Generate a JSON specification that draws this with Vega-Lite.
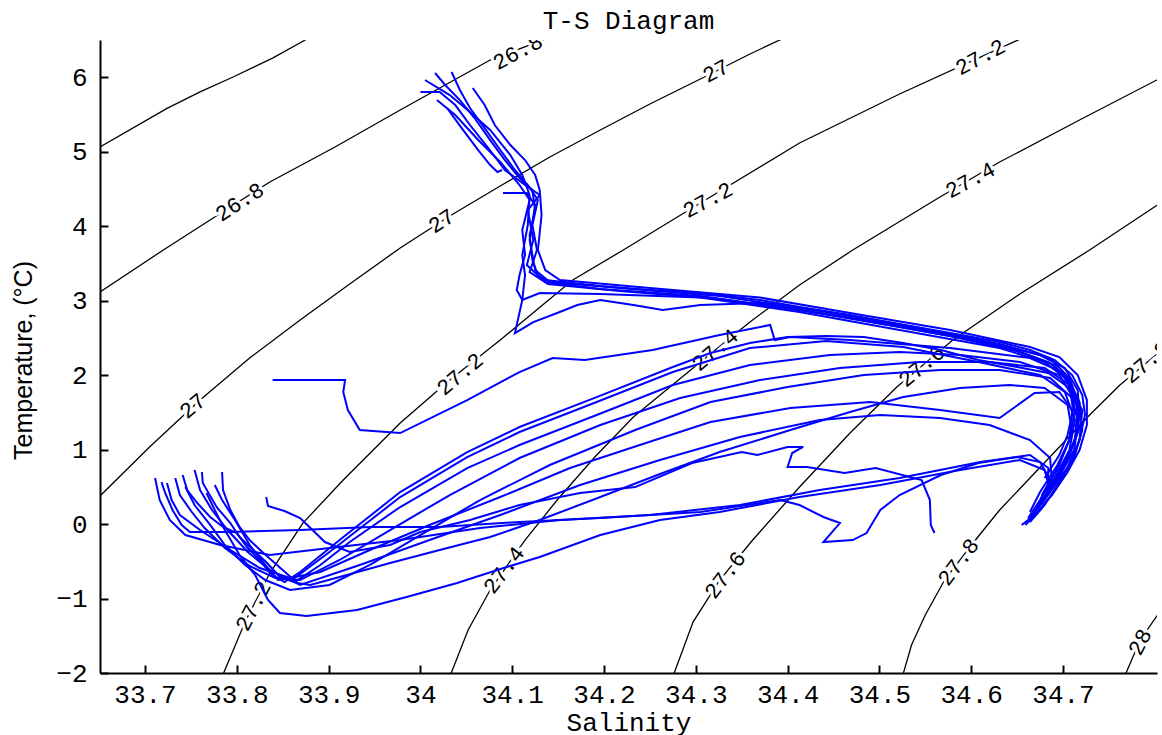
{
"$schema": "https://vega.github.io/schema/vega-lite/v6.json",
"width": 1057, "height": 633,
"autosize": {"type": "none"},
"padding": {"left": 100, "top": 40, "right": 5, "bottom": 62},
"background": "white",
"title": {"text": "T-S Diagram", "font": "Liberation Mono", "fontSize": 26, "fontWeight": "normal", "color": "black", "anchor": "middle", "frame": "group", "baseline": "alphabetic", "offset": 10, "dy": 25},
"config": {"view": {"stroke": null}, "font": "Liberation Mono"},
"datasets": {
"contours": [
{"k":"26.6","i":0,"S":33.651,"T":5.06},{"k":"26.6","i":1,"S":33.724,"T":5.58},{"k":"26.6","i":2,"S":33.760,"T":5.80},{"k":"26.6","i":3,"S":33.796,"T":6.00},{"k":"26.6","i":4,"S":33.840,"T":6.26},{"k":"26.6","i":5,"S":33.875,"T":6.50},{"k":"26.6","i":6,"S":33.900,"T":6.66},
{"k":"26.8","i":0,"S":33.651,"T":3.114},{"k":"26.8","i":1,"S":33.720,"T":3.678},{"k":"26.8","i":2,"S":33.776,"T":4.121},{"k":"26.8","i":3,"S":33.836,"T":4.591},{"k":"26.8","i":4,"S":33.907,"T":5.060},{"k":"26.8","i":5,"S":33.978,"T":5.557},{"k":"26.8","i":6,"S":34.027,"T":5.893},{"k":"26.8","i":7,"S":34.076,"T":6.228},{"k":"26.8","i":8,"S":34.139,"T":6.523},
{"k":"27.0","i":0,"S":33.651,"T":0.376},{"k":"27.0","i":1,"S":33.705,"T":1.034},{"k":"27.0","i":2,"S":33.760,"T":1.664},{"k":"27.0","i":3,"S":33.814,"T":2.228},{"k":"27.0","i":4,"S":33.869,"T":2.738},{"k":"27.0","i":5,"S":33.923,"T":3.222},{"k":"27.0","i":6,"S":33.978,"T":3.705},{"k":"27.0","i":7,"S":34.032,"T":4.134},{"k":"27.0","i":8,"S":34.087,"T":4.537},{"k":"27.0","i":9,"S":34.141,"T":4.926},{"k":"27.0","i":10,"S":34.196,"T":5.289},{"k":"27.0","i":11,"S":34.250,"T":5.638},{"k":"27.0","i":12,"S":34.305,"T":5.973},{"k":"27.0","i":13,"S":34.359,"T":6.309},{"k":"27.0","i":14,"S":34.403,"T":6.564},
{"k":"27.2","i":0,"S":33.784,"T":-2.05},{"k":"27.2","i":1,"S":33.809,"T":-1.316},{"k":"27.2","i":2,"S":33.836,"T":-0.658},{"k":"27.2","i":3,"S":33.872,"T":0.013},{"k":"27.2","i":4,"S":33.916,"T":0.590},{"k":"27.2","i":5,"S":33.978,"T":1.356},{"k":"27.2","i":6,"S":34.032,"T":1.933},{"k":"27.2","i":7,"S":34.087,"T":2.470},{"k":"27.2","i":8,"S":34.166,"T":3.275},{"k":"27.2","i":9,"S":34.221,"T":3.678},{"k":"27.2","i":10,"S":34.305,"T":4.309},{"k":"27.2","i":11,"S":34.413,"T":5.114},{"k":"27.2","i":12,"S":34.522,"T":5.772},{"k":"27.2","i":13,"S":34.610,"T":6.268},{"k":"27.2","i":14,"S":34.675,"T":6.631},
{"k":"27.4","i":0,"S":34.032,"T":-2.05},{"k":"27.4","i":1,"S":34.052,"T":-1.423},{"k":"27.4","i":2,"S":34.076,"T":-0.886},{"k":"27.4","i":3,"S":34.114,"T":-0.215},{"k":"27.4","i":4,"S":34.149,"T":0.322},{"k":"27.4","i":5,"S":34.190,"T":0.899},{"k":"27.4","i":6,"S":34.232,"T":1.436},{"k":"27.4","i":7,"S":34.305,"T":2.174},{"k":"27.4","i":8,"S":34.359,"T":2.711},{"k":"27.4","i":9,"S":34.413,"T":3.208},{"k":"27.4","i":10,"S":34.471,"T":3.678},{"k":"27.4","i":11,"S":34.566,"T":4.389},{"k":"27.4","i":12,"S":34.631,"T":4.859},{"k":"27.4","i":13,"S":34.718,"T":5.423},{"k":"27.4","i":14,"S":34.810,"T":6.01},
{"k":"27.6","i":0,"S":34.275,"T":-2.05},{"k":"27.6","i":1,"S":34.297,"T":-1.316},{"k":"27.6","i":2,"S":34.326,"T":-0.752},{"k":"27.6","i":3,"S":34.362,"T":-0.215},{"k":"27.6","i":4,"S":34.413,"T":0.496},{"k":"27.6","i":5,"S":34.468,"T":1.221},{"k":"27.6","i":6,"S":34.519,"T":1.839},{"k":"27.6","i":7,"S":34.580,"T":2.470},{"k":"27.6","i":8,"S":34.653,"T":3.087},{"k":"27.6","i":9,"S":34.729,"T":3.678},{"k":"27.6","i":10,"S":34.810,"T":4.34},
{"k":"27.8","i":0,"S":34.525,"T":-2.05},{"k":"27.8","i":1,"S":34.535,"T":-1.624},{"k":"27.8","i":2,"S":34.550,"T":-1.221},{"k":"27.8","i":3,"S":34.571,"T":-0.752},{"k":"27.8","i":4,"S":34.602,"T":-0.255},{"k":"27.8","i":5,"S":34.631,"T":0.188},{"k":"27.8","i":6,"S":34.664,"T":0.617},{"k":"27.8","i":7,"S":34.696,"T":1.034},{"k":"27.8","i":8,"S":34.729,"T":1.463},{"k":"27.8","i":9,"S":34.762,"T":1.866},{"k":"27.8","i":10,"S":34.810,"T":2.36},
{"k":"28.0","i":0,"S":34.767,"T":-2.05},{"k":"28.0","i":1,"S":34.784,"T":-1.557},{"k":"28.0","i":2,"S":34.810,"T":-1.10}
],
"lab28": [
{"S":34.106,"T":6.336,"lab":"26.8"},{"S":34.322,"T":6.081,"lab":"27"},{"S":34.610,"T":6.268,"lab":"27.2"},{"S":34.599,"T":4.617,"lab":"27.4"},{"S":34.313,"T":4.349,"lab":"27.2"}
],
"lab33": [
{"S":33.803,"T":4.322,"lab":"26.8"},{"S":34.023,"T":4.067,"lab":"27"}
],
"lab40": [
{"S":34.321,"T":2.336,"lab":"27.4"},{"S":34.043,"T":2.013,"lab":"27.2"},{"S":34.546,"T":2.121,"lab":"27.6"},{"S":34.791,"T":2.174,"lab":"27.8"},{"S":33.752,"T":1.584,"lab":"27"}
],
"lab53": [
{"S":34.091,"T":-0.618,"lab":"27.4"},{"S":34.332,"T":-0.685,"lab":"27.6"},{"S":34.586,"T":-0.510,"lab":"27.8"}
],
"lab63": [
{"S":33.818,"T":-1.101,"lab":"27.2"},{"S":34.784,"T":-1.584,"lab":"28"}
],
"casts": [
{"c":"N1","i":0,"S":34.016,"T":6.054},{"c":"N1","i":1,"S":34.027,"T":5.893},{"c":"N1","i":2,"S":34.043,"T":5.691},{"c":"N1","i":3,"S":34.059,"T":5.450},{"c":"N1","i":4,"S":34.076,"T":5.154},{"c":"N1","i":5,"S":34.092,"T":4.886},{"c":"N1","i":6,"S":34.108,"T":4.644},{"c":"N1","i":7,"S":34.122,"T":4.483},{"c":"N1","i":8,"S":34.125,"T":4.215},{"c":"N1","i":9,"S":34.119,"T":3.879},{"c":"N1","i":10,"S":34.122,"T":3.544},{"c":"N1","i":11,"S":34.128,"T":3.342},{"c":"N1","i":12,"S":34.136,"T":3.275},{"c":"N1","i":13,"S":34.196,"T":3.195},{"c":"N1","i":14,"S":34.250,"T":3.141},{"c":"N1","i":15,"S":34.305,"T":3.101},{"c":"N1","i":16,"S":34.370,"T":3.007},{"c":"N1","i":17,"S":34.413,"T":2.913},{"c":"N1","i":18,"S":34.468,"T":2.805},{"c":"N1","i":19,"S":34.522,"T":2.684},{"c":"N1","i":20,"S":34.577,"T":2.563},{"c":"N1","i":21,"S":34.631,"T":2.443},{"c":"N1","i":22,"S":34.664,"T":2.336},{"c":"N1","i":23,"S":34.691,"T":2.201},{"c":"N1","i":24,"S":34.710,"T":2.000},{"c":"N1","i":25,"S":34.721,"T":1.731},{"c":"N1","i":26,"S":34.724,"T":1.463},{"c":"N1","i":27,"S":34.718,"T":1.127},{"c":"N1","i":28,"S":34.707,"T":0.792},{"c":"N1","i":29,"S":34.691,"T":0.456},{"c":"N1","i":30,"S":34.675,"T":0.188},{"c":"N1","i":31,"S":34.659,"T":-0.013},
{"c":"N2","i":0,"S":34.000,"T":5.799},{"c":"N2","i":1,"S":34.021,"T":5.799},{"c":"N2","i":2,"S":34.038,"T":5.624},{"c":"N2","i":3,"S":34.054,"T":5.356},{"c":"N2","i":4,"S":34.074,"T":5.047},{"c":"N2","i":5,"S":34.092,"T":4.752},{"c":"N2","i":6,"S":34.114,"T":4.550},{"c":"N2","i":7,"S":34.130,"T":4.416},{"c":"N2","i":8,"S":34.117,"T":4.215},{"c":"N2","i":9,"S":34.123,"T":3.812},{"c":"N2","i":10,"S":34.116,"T":3.476},{"c":"N2","i":11,"S":34.136,"T":3.248},{"c":"N2","i":12,"S":34.196,"T":3.154},{"c":"N2","i":13,"S":34.305,"T":3.060},{"c":"N2","i":14,"S":34.413,"T":2.873},{"c":"N2","i":15,"S":34.522,"T":2.644},{"c":"N2","i":16,"S":34.631,"T":2.403},{"c":"N2","i":17,"S":34.675,"T":2.268},{"c":"N2","i":18,"S":34.702,"T":2.094},{"c":"N2","i":19,"S":34.716,"T":1.799},{"c":"N2","i":20,"S":34.718,"T":1.463},{"c":"N2","i":21,"S":34.713,"T":1.127},{"c":"N2","i":22,"S":34.702,"T":0.832},{"c":"N2","i":23,"S":34.686,"T":0.523},{"c":"N2","i":24,"S":34.673,"T":0.255},
{"c":"N3","i":0,"S":34.018,"T":5.691},{"c":"N3","i":1,"S":34.038,"T":5.490},{"c":"N3","i":2,"S":34.063,"T":5.154},{"c":"N3","i":3,"S":34.087,"T":4.859},{"c":"N3","i":4,"S":34.108,"T":4.550},{"c":"N3","i":5,"S":34.119,"T":4.349},{"c":"N3","i":6,"S":34.111,"T":3.946},{"c":"N3","i":7,"S":34.114,"T":3.611},{"c":"N3","i":8,"S":34.108,"T":3.342},{"c":"N3","i":9,"S":34.105,"T":3.141},{"c":"N3","i":10,"S":34.111,"T":3.007},{"c":"N3","i":11,"S":34.130,"T":3.101},{"c":"N3","i":12,"S":34.196,"T":3.087},{"c":"N3","i":13,"S":34.305,"T":3.040},{"c":"N3","i":14,"S":34.413,"T":2.846},{"c":"N3","i":15,"S":34.522,"T":2.604},{"c":"N3","i":16,"S":34.631,"T":2.362},{"c":"N3","i":17,"S":34.680,"T":2.174},{"c":"N3","i":18,"S":34.705,"T":1.933},{"c":"N3","i":19,"S":34.713,"T":1.530},{"c":"N3","i":20,"S":34.707,"T":1.127},{"c":"N3","i":21,"S":34.694,"T":0.792},{"c":"N3","i":22,"S":34.675,"T":0.429},{"c":"N3","i":23,"S":34.664,"T":0.161},
{"c":"N4","i":0,"S":34.057,"T":5.852},{"c":"N4","i":1,"S":34.070,"T":5.624},{"c":"N4","i":2,"S":34.081,"T":5.356},{"c":"N4","i":3,"S":34.098,"T":5.087},{"c":"N4","i":4,"S":34.114,"T":4.886},{"c":"N4","i":5,"S":34.125,"T":4.685},{"c":"N4","i":6,"S":34.130,"T":4.483},{"c":"N4","i":7,"S":34.132,"T":4.148},{"c":"N4","i":8,"S":34.128,"T":3.678},{"c":"N4","i":9,"S":34.136,"T":3.409},{"c":"N4","i":10,"S":34.152,"T":3.275},{"c":"N4","i":11,"S":34.250,"T":3.168},{"c":"N4","i":12,"S":34.370,"T":3.040},{"c":"N4","i":13,"S":34.468,"T":2.832},{"c":"N4","i":14,"S":34.577,"T":2.604},{"c":"N4","i":15,"S":34.664,"T":2.376},{"c":"N4","i":16,"S":34.696,"T":2.241},{"c":"N4","i":17,"S":34.716,"T":2.000},{"c":"N4","i":18,"S":34.726,"T":1.664},{"c":"N4","i":19,"S":34.726,"T":1.329},{"c":"N4","i":20,"S":34.718,"T":0.993},{"c":"N4","i":21,"S":34.705,"T":0.698},{"c":"N4","i":22,"S":34.688,"T":0.389},{"c":"N4","i":23,"S":34.669,"T":0.121},{"c":"N4","i":24,"S":34.655,"T":-0.013},
{"c":"N5","i":0,"S":34.029,"T":5.584},{"c":"N5","i":1,"S":34.045,"T":5.315},{"c":"N5","i":2,"S":34.063,"T":5.020},{"c":"N5","i":3,"S":34.076,"T":4.819},{"c":"N5","i":4,"S":34.084,"T":4.725},{"c":"N5","i":5,"S":34.089,"T":4.752},
{"c":"N6","i":0,"S":34.090,"T":4.443},{"c":"N6","i":1,"S":34.116,"T":4.443},{"c":"N6","i":2,"S":34.125,"T":4.282},{"c":"N6","i":3,"S":34.119,"T":3.812},{"c":"N6","i":4,"S":34.125,"T":3.409},{"c":"N6","i":5,"S":34.141,"T":3.248},{"c":"N6","i":6,"S":34.217,"T":3.168},{"c":"N6","i":7,"S":34.326,"T":3.060},{"c":"N6","i":8,"S":34.435,"T":2.859},{"c":"N6","i":9,"S":34.544,"T":2.631},{"c":"N6","i":10,"S":34.631,"T":2.416},{"c":"N6","i":11,"S":34.686,"T":2.228},{"c":"N6","i":12,"S":34.707,"T":1.960},{"c":"N6","i":13,"S":34.718,"T":1.597},{"c":"N6","i":14,"S":34.716,"T":1.235},{"c":"N6","i":15,"S":34.705,"T":0.886},{"c":"N6","i":16,"S":34.691,"T":0.590},{"c":"N6","i":17,"S":34.680,"T":0.362},
{"c":"N7","i":0,"S":34.005,"T":5.960},{"c":"N7","i":1,"S":34.032,"T":5.758},{"c":"N7","i":2,"S":34.054,"T":5.530},{"c":"N7","i":3,"S":34.076,"T":5.289},{"c":"N7","i":4,"S":34.098,"T":4.953},{"c":"N7","i":5,"S":34.111,"T":4.685},{"c":"N7","i":6,"S":34.119,"T":4.416},{"c":"N7","i":7,"S":34.117,"T":4.013},{"c":"N7","i":8,"S":34.111,"T":3.611},{"c":"N7","i":9,"S":34.114,"T":3.342},{"c":"N7","i":10,"S":34.111,"T":3.007},{"c":"N7","i":11,"S":34.103,"T":2.563},{"c":"N7","i":12,"S":34.123,"T":2.711},{"c":"N7","i":13,"S":34.149,"T":2.832},{"c":"N7","i":14,"S":34.171,"T":2.940},{"c":"N7","i":15,"S":34.196,"T":3.007},{"c":"N7","i":16,"S":34.232,"T":2.940},{"c":"N7","i":17,"S":34.264,"T":2.873},{"c":"N7","i":18,"S":34.305,"T":2.940},{"c":"N7","i":19,"S":34.370,"T":2.966},{"c":"N7","i":20,"S":34.468,"T":2.765},{"c":"N7","i":21,"S":34.577,"T":2.523},{"c":"N7","i":22,"S":34.653,"T":2.309},{"c":"N7","i":23,"S":34.691,"T":2.134},{"c":"N7","i":24,"S":34.707,"T":1.866},{"c":"N7","i":25,"S":34.711,"T":1.530},{"c":"N7","i":26,"S":34.705,"T":1.194},{"c":"N7","i":27,"S":34.696,"T":0.926},{"c":"N7","i":28,"S":34.680,"T":0.617},
{"c":"N8","i":0,"S":34.034,"T":6.067},{"c":"N8","i":1,"S":34.043,"T":5.826},{"c":"N8","i":2,"S":34.054,"T":5.584},{"c":"N8","i":3,"S":34.070,"T":5.315},{"c":"N8","i":4,"S":34.087,"T":5.020},{"c":"N8","i":5,"S":34.103,"T":4.752},{"c":"N8","i":6,"S":34.117,"T":4.550},{"c":"N8","i":7,"S":34.128,"T":4.349},{"c":"N8","i":8,"S":34.122,"T":4.013},{"c":"N8","i":9,"S":34.127,"T":3.678},{"c":"N8","i":10,"S":34.119,"T":3.382},{"c":"N8","i":11,"S":34.139,"T":3.222},{"c":"N8","i":12,"S":34.217,"T":3.128},{"c":"N8","i":13,"S":34.326,"T":3.020},{"c":"N8","i":14,"S":34.435,"T":2.832},{"c":"N8","i":15,"S":34.544,"T":2.617},{"c":"N8","i":16,"S":34.642,"T":2.362},{"c":"N8","i":17,"S":34.684,"T":2.174},{"c":"N8","i":18,"S":34.705,"T":1.960},{"c":"N8","i":19,"S":34.718,"T":1.637},{"c":"N8","i":20,"S":34.721,"T":1.262},{"c":"N8","i":21,"S":34.712,"T":0.886},{"c":"N8","i":22,"S":34.696,"T":0.563},{"c":"N8","i":23,"S":34.680,"T":0.255},{"c":"N8","i":24,"S":34.664,"T":0.027},
{"c":"S1","i":0,"S":33.718,"T":0.563},{"c":"S1","i":1,"S":33.722,"T":0.416},{"c":"S1","i":2,"S":33.730,"T":0.188},{"c":"S1","i":3,"S":33.740,"T":-0.013},{"c":"S1","i":4,"S":33.749,"T":-0.108},{"c":"S1","i":5,"S":33.793,"T":-0.108},{"c":"S1","i":6,"S":33.869,"T":-0.081},{"c":"S1","i":7,"S":33.945,"T":-0.040},{"c":"S1","i":8,"S":34.021,"T":-0.040},{"c":"S1","i":9,"S":34.108,"T":0.027},{"c":"S1","i":10,"S":34.196,"T":0.081},{"c":"S1","i":11,"S":34.305,"T":0.161},{"c":"S1","i":12,"S":34.392,"T":0.322},{"c":"S1","i":13,"S":34.413,"T":0.255},{"c":"S1","i":14,"S":34.439,"T":0.094},{"c":"S1","i":15,"S":34.457,"T":0.013},{"c":"S1","i":16,"S":34.439,"T":-0.242},{"c":"S1","i":17,"S":34.471,"T":-0.215},{"c":"S1","i":18,"S":34.486,"T":-0.121},{"c":"S1","i":19,"S":34.501,"T":0.188},{"c":"S1","i":20,"S":34.522,"T":0.389},{"c":"S1","i":21,"S":34.567,"T":0.658},{"c":"S1","i":22,"S":34.608,"T":0.818},{"c":"S1","i":23,"S":34.650,"T":0.899},{"c":"S1","i":24,"S":34.675,"T":0.832},{"c":"S1","i":25,"S":34.686,"T":0.590},{"c":"S1","i":26,"S":34.675,"T":0.322},{"c":"S1","i":27,"S":34.662,"T":0.081},
{"c":"S2","i":0,"S":33.741,"T":0.658},{"c":"S2","i":1,"S":33.746,"T":0.456},{"c":"S2","i":2,"S":33.757,"T":0.282},{"c":"S2","i":3,"S":33.771,"T":0.094},{"c":"S2","i":4,"S":33.785,"T":-0.040},{"c":"S2","i":5,"S":33.800,"T":-0.121},{"c":"S2","i":6,"S":33.811,"T":-0.309},{"c":"S2","i":7,"S":33.825,"T":-0.483},{"c":"S2","i":8,"S":33.836,"T":-0.658},{"c":"S2","i":9,"S":33.852,"T":-0.779},{"c":"S2","i":10,"S":33.869,"T":-0.644},{"c":"S2","i":11,"S":33.912,"T":-0.215},{"c":"S2","i":12,"S":33.978,"T":0.429},{"c":"S2","i":13,"S":34.051,"T":0.966},{"c":"S2","i":14,"S":34.108,"T":1.302},{"c":"S2","i":15,"S":34.192,"T":1.704},{"c":"S2","i":16,"S":34.275,"T":2.107},{"c":"S2","i":17,"S":34.316,"T":2.295},{"c":"S2","i":18,"S":34.359,"T":2.429},{"c":"S2","i":19,"S":34.400,"T":2.510},{"c":"S2","i":20,"S":34.442,"T":2.523},{"c":"S2","i":21,"S":34.483,"T":2.510},{"c":"S2","i":22,"S":34.526,"T":2.429},{"c":"S2","i":23,"S":34.567,"T":2.336},{"c":"S2","i":24,"S":34.608,"T":2.201},{"c":"S2","i":25,"S":34.650,"T":2.107},{"c":"S2","i":26,"S":34.684,"T":2.027},{"c":"S2","i":27,"S":34.707,"T":1.826},{"c":"S2","i":28,"S":34.721,"T":1.530},{"c":"S2","i":29,"S":34.718,"T":1.127},{"c":"S2","i":30,"S":34.705,"T":0.765},{"c":"S2","i":31,"S":34.686,"T":0.429},{"c":"S2","i":32,"S":34.664,"T":0.081},
{"c":"S9","i":0,"S":33.776,"T":0.523},{"c":"S9","i":1,"S":33.784,"T":0.322},{"c":"S9","i":2,"S":33.798,"T":0.054},{"c":"S9","i":3,"S":33.814,"T":-0.282},{"c":"S9","i":4,"S":33.831,"T":-0.550},{"c":"S9","i":5,"S":33.845,"T":-0.752},{"c":"S9","i":6,"S":33.863,"T":-0.725},{"c":"S9","i":7,"S":33.901,"T":-0.376},{"c":"S9","i":8,"S":33.978,"T":0.362},{"c":"S9","i":9,"S":34.051,"T":0.899},{"c":"S9","i":10,"S":34.108,"T":1.235},{"c":"S9","i":11,"S":34.192,"T":1.637},{"c":"S9","i":12,"S":34.275,"T":2.040},{"c":"S9","i":13,"S":34.359,"T":2.362},{"c":"S9","i":14,"S":34.442,"T":2.456},{"c":"S9","i":15,"S":34.526,"T":2.376},{"c":"S9","i":16,"S":34.608,"T":2.174},{"c":"S9","i":17,"S":34.675,"T":2.000},{"c":"S9","i":18,"S":34.702,"T":1.772},{"c":"S9","i":19,"S":34.713,"T":1.396},{"c":"S9","i":20,"S":34.707,"T":0.993},{"c":"S9","i":21,"S":34.691,"T":0.617},
{"c":"S3","i":0,"S":33.762,"T":0.698},{"c":"S3","i":1,"S":33.763,"T":0.550},{"c":"S3","i":2,"S":33.778,"T":0.228},{"c":"S3","i":3,"S":33.793,"T":0.013},{"c":"S3","i":4,"S":33.803,"T":-0.175},{"c":"S3","i":5,"S":33.818,"T":-0.349},{"c":"S3","i":6,"S":33.833,"T":-0.524},{"c":"S3","i":7,"S":33.847,"T":-0.712},{"c":"S3","i":8,"S":33.863,"T":-0.779},{"c":"S3","i":9,"S":33.891,"T":-0.550},{"c":"S3","i":10,"S":33.923,"T":-0.242},{"c":"S3","i":11,"S":33.978,"T":0.228},{"c":"S3","i":12,"S":34.051,"T":0.751},{"c":"S3","i":13,"S":34.108,"T":1.060},{"c":"S3","i":14,"S":34.192,"T":1.463},{"c":"S3","i":15,"S":34.275,"T":1.866},{"c":"S3","i":16,"S":34.359,"T":2.134},{"c":"S3","i":17,"S":34.446,"T":2.268},{"c":"S3","i":18,"S":34.522,"T":2.309},{"c":"S3","i":19,"S":34.588,"T":2.268},{"c":"S3","i":20,"S":34.653,"T":2.174},{"c":"S3","i":21,"S":34.696,"T":2.000},{"c":"S3","i":22,"S":34.716,"T":1.597},{"c":"S3","i":23,"S":34.713,"T":1.127},{"c":"S3","i":24,"S":34.699,"T":0.725},{"c":"S3","i":25,"S":34.680,"T":0.322},{"c":"S3","i":26,"S":34.662,"T":0.054},
{"c":"S4","i":0,"S":33.784,"T":0.698},{"c":"S4","i":1,"S":33.785,"T":0.456},{"c":"S4","i":2,"S":33.793,"T":0.188},{"c":"S4","i":3,"S":33.803,"T":-0.040},{"c":"S4","i":4,"S":33.814,"T":-0.215},{"c":"S4","i":5,"S":33.829,"T":-0.389},{"c":"S4","i":6,"S":33.850,"T":-0.618},{"c":"S4","i":7,"S":33.866,"T":-0.792},{"c":"S4","i":8,"S":33.880,"T":-0.819},{"c":"S4","i":9,"S":33.912,"T":-0.712},{"c":"S4","i":10,"S":33.967,"T":-0.524},{"c":"S4","i":11,"S":34.021,"T":-0.349},{"c":"S4","i":12,"S":34.076,"T":-0.175},{"c":"S4","i":13,"S":34.130,"T":0.054},{"c":"S4","i":14,"S":34.196,"T":0.362},{"c":"S4","i":15,"S":34.261,"T":0.671},{"c":"S4","i":16,"S":34.326,"T":0.966},{"c":"S4","i":17,"S":34.403,"T":1.262},{"c":"S4","i":18,"S":34.468,"T":1.503},{"c":"S4","i":19,"S":34.526,"T":1.704},{"c":"S4","i":20,"S":34.588,"T":1.826},{"c":"S4","i":21,"S":34.642,"T":1.866},{"c":"S4","i":22,"S":34.680,"T":1.826},{"c":"S4","i":23,"S":34.705,"T":1.597},{"c":"S4","i":24,"S":34.710,"T":1.235},{"c":"S4","i":25,"S":34.696,"T":0.792},{"c":"S4","i":26,"S":34.677,"T":0.362},
{"c":"S5","i":0,"S":33.832,"T":0.362},{"c":"S5","i":1,"S":33.834,"T":0.241},{"c":"S5","i":2,"S":33.852,"T":0.174},{"c":"S5","i":3,"S":33.869,"T":0.081},{"c":"S5","i":4,"S":33.878,"T":-0.027},{"c":"S5","i":5,"S":33.896,"T":-0.242},{"c":"S5","i":6,"S":33.923,"T":-0.376},{"c":"S5","i":7,"S":33.967,"T":-0.282},{"c":"S5","i":8,"S":34.000,"T":-0.108},{"c":"S5","i":9,"S":34.054,"T":0.054},{"c":"S5","i":10,"S":34.108,"T":0.255},{"c":"S5","i":11,"S":34.174,"T":0.416},{"c":"S5","i":12,"S":34.234,"T":0.496},{"c":"S5","i":13,"S":34.296,"T":0.818},{"c":"S5","i":14,"S":34.350,"T":0.966},{"c":"S5","i":15,"S":34.367,"T":0.926},{"c":"S5","i":16,"S":34.400,"T":1.034},{"c":"S5","i":17,"S":34.417,"T":1.034},{"c":"S5","i":18,"S":34.405,"T":0.953},{"c":"S5","i":19,"S":34.400,"T":0.765},{"c":"S5","i":20,"S":34.421,"T":0.765},{"c":"S5","i":21,"S":34.462,"T":0.684},{"c":"S5","i":22,"S":34.496,"T":0.751},{"c":"S5","i":23,"S":34.546,"T":0.590},{"c":"S5","i":24,"S":34.555,"T":0.322},{"c":"S5","i":25,"S":34.556,"T":-0.013},{"c":"S5","i":26,"S":34.560,"T":-0.121},
{"c":"S6","i":0,"S":33.767,"T":0.416},{"c":"S6","i":1,"S":33.776,"T":0.188},{"c":"S6","i":2,"S":33.787,"T":-0.081},{"c":"S6","i":3,"S":33.803,"T":-0.416},{"c":"S6","i":4,"S":33.820,"T":-0.685},{"c":"S6","i":5,"S":33.834,"T":-1.020},{"c":"S6","i":6,"S":33.847,"T":-1.195},{"c":"S6","i":7,"S":33.876,"T":-1.235},{"c":"S6","i":8,"S":33.931,"T":-1.154},{"c":"S6","i":9,"S":33.985,"T":-0.980},{"c":"S6","i":10,"S":34.040,"T":-0.792},{"c":"S6","i":11,"S":34.094,"T":-0.577},{"c":"S6","i":12,"S":34.130,"T":-0.443},{"c":"S6","i":13,"S":34.196,"T":-0.148},{"c":"S6","i":14,"S":34.261,"T":0.054},{"c":"S6","i":15,"S":34.326,"T":0.161},{"c":"S6","i":16,"S":34.413,"T":0.362},{"c":"S6","i":17,"S":34.501,"T":0.523},{"c":"S6","i":18,"S":34.588,"T":0.725},{"c":"S6","i":19,"S":34.653,"T":0.859},{"c":"S6","i":20,"S":34.680,"T":0.725},{"c":"S6","i":21,"S":34.686,"T":0.456},{"c":"S6","i":22,"S":34.669,"T":0.161},
{"c":"S7","i":0,"S":33.744,"T":0.496},{"c":"S7","i":1,"S":33.754,"T":0.255},{"c":"S7","i":2,"S":33.771,"T":-0.013},{"c":"S7","i":3,"S":33.787,"T":-0.282},{"c":"S7","i":4,"S":33.809,"T":-0.550},{"c":"S7","i":5,"S":33.831,"T":-0.752},{"c":"S7","i":6,"S":33.858,"T":-0.886},{"c":"S7","i":7,"S":33.901,"T":-0.819},{"c":"S7","i":8,"S":33.945,"T":-0.550},{"c":"S7","i":9,"S":34.000,"T":-0.148},{"c":"S7","i":10,"S":34.065,"T":0.322},{"c":"S7","i":11,"S":34.141,"T":0.792},{"c":"S7","i":12,"S":34.234,"T":1.262},{"c":"S7","i":13,"S":34.316,"T":1.637},{"c":"S7","i":14,"S":34.400,"T":1.839},{"c":"S7","i":15,"S":34.483,"T":2.000},{"c":"S7","i":16,"S":34.566,"T":2.067},{"c":"S7","i":17,"S":34.631,"T":2.067},{"c":"S7","i":18,"S":34.686,"T":1.960},{"c":"S7","i":19,"S":34.710,"T":1.691},{"c":"S7","i":20,"S":34.718,"T":1.288},{"c":"S7","i":21,"S":34.705,"T":0.859},{"c":"S7","i":22,"S":34.686,"T":0.456},
{"c":"S8","i":0,"S":33.724,"T":0.550},{"c":"S8","i":1,"S":33.729,"T":0.322},{"c":"S8","i":2,"S":33.738,"T":0.121},{"c":"S8","i":3,"S":33.760,"T":-0.081},{"c":"S8","i":4,"S":33.793,"T":-0.349},{"c":"S8","i":5,"S":33.825,"T":-0.591},{"c":"S8","i":6,"S":33.858,"T":-0.725},{"c":"S8","i":7,"S":33.891,"T":-0.644},{"c":"S8","i":8,"S":33.945,"T":-0.349},{"c":"S8","i":9,"S":34.010,"T":-0.013},{"c":"S8","i":10,"S":34.087,"T":0.362},{"c":"S8","i":11,"S":34.163,"T":0.751},{"c":"S8","i":12,"S":34.239,"T":1.060},{"c":"S8","i":13,"S":34.316,"T":1.369},{"c":"S8","i":14,"S":34.403,"T":1.557},{"c":"S8","i":15,"S":34.490,"T":1.637},{"c":"S8","i":16,"S":34.566,"T":1.530},{"c":"S8","i":17,"S":34.631,"T":1.423},{"c":"S8","i":18,"S":34.669,"T":1.758},{"c":"S8","i":19,"S":34.696,"T":1.772},{"c":"S8","i":20,"S":34.710,"T":1.530},{"c":"S8","i":21,"S":34.707,"T":1.127},{"c":"S8","i":22,"S":34.694,"T":0.751},{"c":"S8","i":23,"S":34.677,"T":0.389},
{"c":"S10","i":0,"S":33.733,"T":0.617},{"c":"S10","i":1,"S":33.738,"T":0.389},{"c":"S10","i":2,"S":33.751,"T":0.161},{"c":"S10","i":3,"S":33.765,"T":-0.054},{"c":"S10","i":4,"S":33.787,"T":-0.322},{"c":"S10","i":5,"S":33.814,"T":-0.564},{"c":"S10","i":6,"S":33.842,"T":-0.725},{"c":"S10","i":7,"S":33.869,"T":-0.752},{"c":"S10","i":8,"S":33.912,"T":-0.483},{"c":"S10","i":9,"S":33.967,"T":-0.081},{"c":"S10","i":10,"S":34.032,"T":0.389},{"c":"S10","i":11,"S":34.108,"T":0.886},{"c":"S10","i":12,"S":34.196,"T":1.329},{"c":"S10","i":13,"S":34.283,"T":1.691},{"c":"S10","i":14,"S":34.370,"T":1.933},{"c":"S10","i":15,"S":34.457,"T":2.094},{"c":"S10","i":16,"S":34.544,"T":2.174},{"c":"S10","i":17,"S":34.620,"T":2.174},{"c":"S10","i":18,"S":34.680,"T":2.094},{"c":"S10","i":19,"S":34.707,"T":1.866},{"c":"S10","i":20,"S":34.718,"T":1.463},{"c":"S10","i":21,"S":34.712,"T":0.993},{"c":"S10","i":22,"S":34.694,"T":0.590},{"c":"S10","i":23,"S":34.675,"T":0.255},
{"c":"S11","i":0,"S":33.754,"T":0.725},{"c":"S11","i":1,"S":33.760,"T":0.456},{"c":"S11","i":2,"S":33.773,"T":0.188},{"c":"S11","i":3,"S":33.790,"T":-0.081},{"c":"S11","i":4,"S":33.812,"T":-0.376},{"c":"S11","i":5,"S":33.836,"T":-0.618},{"c":"S11","i":6,"S":33.869,"T":-0.819},{"c":"S11","i":7,"S":33.934,"T":-0.550},{"c":"S11","i":8,"S":34.010,"T":-0.215},{"c":"S11","i":9,"S":34.087,"T":0.121},{"c":"S11","i":10,"S":34.174,"T":0.523},{"c":"S11","i":11,"S":34.261,"T":0.859},{"c":"S11","i":12,"S":34.348,"T":1.168},{"c":"S11","i":13,"S":34.435,"T":1.396},{"c":"S11","i":14,"S":34.501,"T":1.463},{"c":"S11","i":15,"S":34.566,"T":1.423},{"c":"S11","i":16,"S":34.620,"T":1.329},{"c":"S11","i":17,"S":34.664,"T":1.127},{"c":"S11","i":18,"S":34.686,"T":0.886},{"c":"S11","i":19,"S":34.688,"T":0.563},
{"c":"S12","i":0,"S":33.711,"T":0.617},{"c":"S12","i":1,"S":33.716,"T":0.322},{"c":"S12","i":2,"S":33.727,"T":0.054},{"c":"S12","i":3,"S":33.744,"T":-0.148},{"c":"S12","i":4,"S":33.782,"T":-0.282},{"c":"S12","i":5,"S":33.836,"T":-0.416},{"c":"S12","i":6,"S":33.901,"T":-0.322},{"c":"S12","i":7,"S":33.978,"T":-0.215},{"c":"S12","i":8,"S":34.065,"T":-0.054},{"c":"S12","i":9,"S":34.152,"T":0.054},{"c":"S12","i":10,"S":34.250,"T":0.121},{"c":"S12","i":11,"S":34.348,"T":0.255},{"c":"S12","i":12,"S":34.435,"T":0.456},{"c":"S12","i":13,"S":34.522,"T":0.617},{"c":"S12","i":14,"S":34.610,"T":0.832},{"c":"S12","i":15,"S":34.664,"T":0.926},{"c":"S12","i":16,"S":34.684,"T":0.751},{"c":"S12","i":17,"S":34.684,"T":0.456},{"c":"S12","i":18,"S":34.666,"T":0.121},
{"c":"M1","i":0,"S":33.839,"T":1.933},{"c":"M1","i":1,"S":33.918,"T":1.933},{"c":"M1","i":2,"S":33.916,"T":1.772},{"c":"M1","i":3,"S":33.921,"T":1.530},{"c":"M1","i":4,"S":33.934,"T":1.262},{"c":"M1","i":5,"S":33.978,"T":1.221},{"c":"M1","i":6,"S":34.051,"T":1.664},{"c":"M1","i":7,"S":34.108,"T":2.040},{"c":"M1","i":8,"S":34.144,"T":2.228},{"c":"M1","i":9,"S":34.179,"T":2.201},{"c":"M1","i":10,"S":34.253,"T":2.336},{"c":"M1","i":11,"S":34.326,"T":2.537},{"c":"M1","i":12,"S":34.381,"T":2.671},{"c":"M1","i":13,"S":34.386,"T":2.470},{"c":"M1","i":14,"S":34.403,"T":2.510},{"c":"M1","i":15,"S":34.468,"T":2.470},{"c":"M1","i":16,"S":34.577,"T":2.362},{"c":"M1","i":17,"S":34.664,"T":2.228},{"c":"M1","i":18,"S":34.699,"T":2.040},{"c":"M1","i":19,"S":34.715,"T":1.664},{"c":"M1","i":20,"S":34.716,"T":1.262},{"c":"M1","i":21,"S":34.704,"T":0.832},{"c":"M1","i":22,"S":34.684,"T":0.429}
]
},
"encoding": {
"x": {"field": "S", "type": "quantitative", "scale": {"domain": [33.651, 34.8024], "nice": false, "zero": false},
  "axis": {"title": "Salinity", "values": [33.7, 33.8, 33.9, 34, 34.1, 34.2, 34.3, 34.4, 34.5, 34.6, 34.7], "format": "~g", "grid": false, "labelOverlap": false, "labelFlush": false,
    "labelFont": "Liberation Mono", "labelFontSize": 26, "labelColor": "black", "labelPadding": 16,
    "tickSize": -8, "tickWidth": 2, "tickColor": "black", "domainColor": "black", "domainWidth": 2,
    "titleFont": "Liberation Mono", "titleFontSize": 26, "titleFontWeight": "normal", "titleColor": "black", "titleBaseline": "alphabetic", "titleY": 57}},
"y": {"field": "T", "type": "quantitative", "scale": {"domain": [-2, 6.497], "nice": false, "zero": false},
  "axis": {"title": "Temperature, (°C)", "values": [-2, -1, 0, 1, 2, 3, 4, 5, 6], "format": "d", "grid": false, "labelOverlap": false, "labelFlush": false,
    "labelFont": "Liberation Mono", "labelFontSize": 26, "labelColor": "black", "labelPadding": 21,
    "tickSize": -8, "tickWidth": 2, "tickColor": "black", "domainColor": "black", "domainWidth": 2,
    "titleFont": "Liberation Sans", "titleFontSize": 25, "titleFontWeight": "normal", "titleColor": "black", "titleBaseline": "alphabetic", "titleX": -69, "titleY": 320}}
},
"layer": [
{"data": {"name": "contours"}, "mark": {"type": "line", "color": "black", "strokeWidth": 1.3, "clip": true}, "encoding": {"detail": {"field": "k"}, "order": {"field": "i", "type": "quantitative"}}},
{"data": {"name": "lab28"}, "mark": {"type": "text", "angle": -28, "font": "Liberation Mono", "fontSize": 22, "fill": "white", "stroke": "white", "strokeWidth": 6, "clip": true}, "encoding": {"text": {"field": "lab"}}},
{"data": {"name": "lab33"}, "mark": {"type": "text", "angle": -33, "font": "Liberation Mono", "fontSize": 22, "fill": "white", "stroke": "white", "strokeWidth": 6, "clip": true}, "encoding": {"text": {"field": "lab"}}},
{"data": {"name": "lab40"}, "mark": {"type": "text", "angle": -40, "font": "Liberation Mono", "fontSize": 22, "fill": "white", "stroke": "white", "strokeWidth": 6, "clip": true}, "encoding": {"text": {"field": "lab"}}},
{"data": {"name": "lab53"}, "mark": {"type": "text", "angle": -53, "font": "Liberation Mono", "fontSize": 22, "fill": "white", "stroke": "white", "strokeWidth": 6, "clip": true}, "encoding": {"text": {"field": "lab"}}},
{"data": {"name": "lab63"}, "mark": {"type": "text", "angle": -63, "font": "Liberation Mono", "fontSize": 22, "fill": "white", "stroke": "white", "strokeWidth": 6, "clip": true}, "encoding": {"text": {"field": "lab"}}},
{"data": {"name": "lab28"}, "mark": {"type": "text", "angle": -28, "font": "Liberation Mono", "fontSize": 22, "color": "black", "clip": true}, "encoding": {"text": {"field": "lab"}}},
{"data": {"name": "lab33"}, "mark": {"type": "text", "angle": -33, "font": "Liberation Mono", "fontSize": 22, "color": "black", "clip": true}, "encoding": {"text": {"field": "lab"}}},
{"data": {"name": "lab40"}, "mark": {"type": "text", "angle": -40, "font": "Liberation Mono", "fontSize": 22, "color": "black", "clip": true}, "encoding": {"text": {"field": "lab"}}},
{"data": {"name": "lab53"}, "mark": {"type": "text", "angle": -53, "font": "Liberation Mono", "fontSize": 22, "color": "black", "clip": true}, "encoding": {"text": {"field": "lab"}}},
{"data": {"name": "lab63"}, "mark": {"type": "text", "angle": -63, "font": "Liberation Mono", "fontSize": 22, "color": "black", "clip": true}, "encoding": {"text": {"field": "lab"}}},
{"data": {"name": "casts"}, "mark": {"type": "line", "color": "#0000ff", "strokeWidth": 2, "clip": true}, "encoding": {"detail": {"field": "c"}, "order": {"field": "i", "type": "quantitative"}}}
]
}
